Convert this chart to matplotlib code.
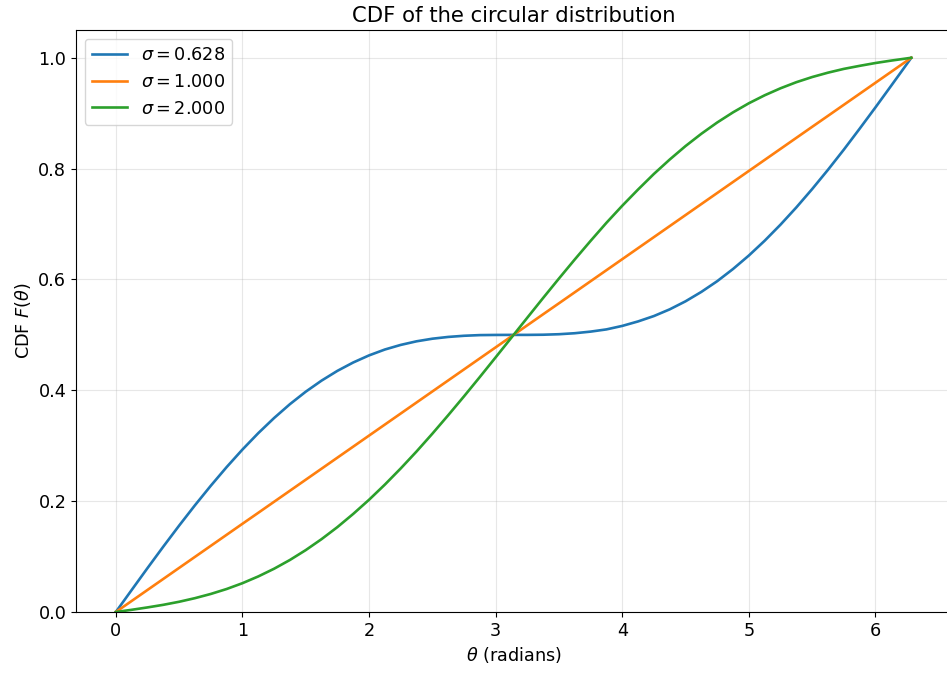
import matplotlib
matplotlib.use("Agg")
import matplotlib.pyplot as plt

plt.rcParams["font.size"] = 12.7

# theta grid (radians) and CDF values
theta = [0.0, 0.125, 0.25, 0.375, 0.5, 0.625, 0.75, 0.875, 1.0, 1.125, 1.25,
         1.375, 1.5, 1.625, 1.75, 1.875, 2.0, 2.125, 2.25, 2.375, 2.5, 2.625,
         2.75, 2.875, 3.0, 3.125, 3.25, 3.375, 3.5, 3.625, 3.75, 3.875, 4.0,
         4.125, 4.25, 4.375, 4.5, 4.625, 4.75, 4.875, 5.0, 5.125, 5.25, 5.375,
         5.5, 5.625, 5.75, 5.875, 6.0, 6.125, 6.25, 6.283]
sigmas = [0.628, 1.000, 2.000]
cdf_s0628 = [0.0, 0.0397, 0.0792, 0.1180, 0.1559, 0.1926, 0.2278, 0.2614,
             0.2931, 0.3227, 0.3500, 0.3750, 0.3975, 0.4175, 0.4351, 0.4502,
             0.4630, 0.4736, 0.4819, 0.4884, 0.4931, 0.4963, 0.4984, 0.4996,
             0.4999, 0.5000, 0.5000, 0.5003, 0.5012, 0.5030, 0.5059, 0.5099,
             0.5162, 0.5243, 0.5340, 0.5461, 0.5606, 0.5776, 0.5969, 0.6189,
             0.6432, 0.6699, 0.6989, 0.7300, 0.7631, 0.7979, 0.8342, 0.8720,
             0.9105, 0.9498, 0.9894, 1.0]
cdf_s1000 = [0.0, 0.0199, 0.0398, 0.0597, 0.0796, 0.0995, 0.1194, 0.1393,
             0.1592, 0.1790, 0.1989, 0.2188, 0.2387, 0.2586, 0.2785, 0.2984,
             0.3183, 0.3382, 0.3581, 0.3780, 0.3979, 0.4178, 0.4377, 0.4576,
             0.4775, 0.4974, 0.5173, 0.5372, 0.5570, 0.5769, 0.5968, 0.6167,
             0.6366, 0.6565, 0.6764, 0.6963, 0.7162, 0.7361, 0.7560, 0.7759,
             0.7958, 0.8157, 0.8356, 0.8555, 0.8754, 0.8952, 0.9151, 0.9350,
             0.9549, 0.9748, 0.9947, 1.0]
cdf_s2000 = [0.0, 0.0040, 0.0083, 0.0130, 0.0185, 0.0250, 0.0326, 0.0415,
             0.0520, 0.0642, 0.0781, 0.0939, 0.1117, 0.1315, 0.1532, 0.1770,
             0.2025, 0.2299, 0.2590, 0.2896, 0.3217, 0.3550, 0.3891, 0.4240,
             0.4595, 0.4952, 0.5310, 0.5666, 0.6017, 0.6361, 0.6696, 0.7022,
             0.7330, 0.7623, 0.7904, 0.8164, 0.8407, 0.8629, 0.8832, 0.9015,
             0.9179, 0.9323, 0.9449, 0.9559, 0.9652, 0.9731, 0.9799, 0.9854,
             0.9905, 0.9949, 0.9989, 1.0]

fig = plt.figure(figsize=(9.47, 6.75), dpi=100)
ax = fig.add_axes([0.0803, 0.0933, 0.924, 0.8622])

for s, F in zip(sigmas, [cdf_s0628, cdf_s1000, cdf_s2000]):
    ax.plot(theta, F, lw=1.9, label=rf"$\sigma = {s:.3f}$")

ax.set_ylim(0, 1.05)
ax.set_xlabel(r"$\theta$ (radians)")
ax.set_ylabel(r"CDF $F(\theta)$")
ax.set_title("CDF of the circular distribution")
ax.grid(True, alpha=0.3)
ax.legend(loc="upper left")

fig.savefig("out.png", dpi=100)
